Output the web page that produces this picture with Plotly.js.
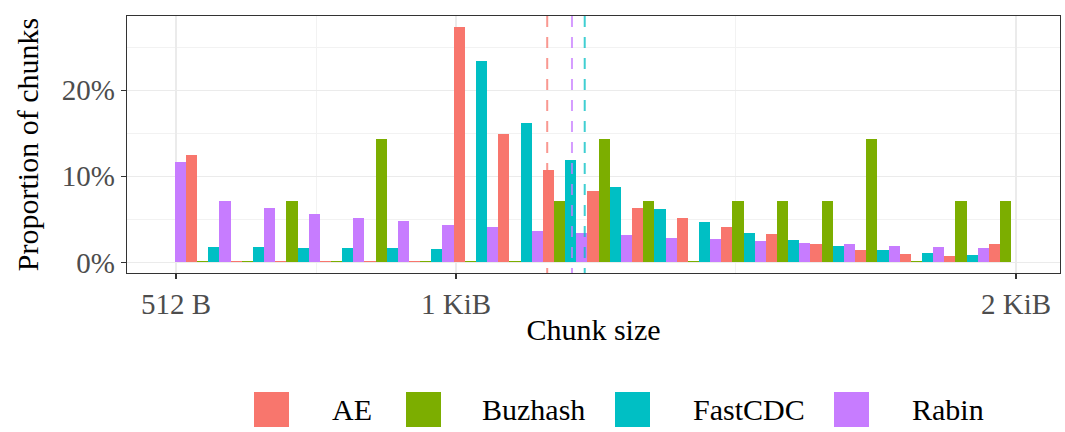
<!DOCTYPE html>
<html>
<head>
<meta charset="utf-8">
<script src="https://cdn.plot.ly/plotly-3.0.1.min.js"></script>
<style>html,body{margin:0;padding:0;background:#fff;}#chart{width:1065px;height:432px;}</style>
</head>
<body>
<div id="chart"></div>
<script>
// Bin centres (bytes)
const binCenters = [489.5, 571.1, 652.7, 734.2, 815.8, 897.4, 978.9, 1060.5, 1142.1, 1223.6,
                    1305.2, 1386.8, 1468.3, 1549.9, 1631.5, 1713.0, 1794.6, 1876.2, 1957.7, 2039.3];
// Proportion of chunks (%) per bin
const aeValues      = [null, 12.48, 0.15, 0.15, 0.15, 0.15, 0.15, 27.35, 14.91, 10.74, 8.31, 6.34, 5.18, 4.14, 3.33, 2.17, 1.47, 1.01, 0.78, 2.17];
const buzhashValues = [null, 0.15, 0.15, 7.14, 0.15, 14.29, 0.15, 0.15, 0.15, 7.14, 14.29, 7.14, 0.15, 7.14, 7.14, 7.14, 14.29, 0.15, 7.14, 7.14];
const fastcdcValues = [null, 1.82, 1.82, 1.70, 1.70, 1.70, 1.59, 23.37, 16.19, 11.90, 8.77, 6.22, 4.72, 3.44, 2.63, 1.94, 1.47, 1.12, 0.89, null];
const rabinValues   = [11.67, 7.15, 6.34, 5.64, 5.18, 4.83, 4.37, 4.14, 3.67, 3.44, 3.21, 2.86, 2.75, 2.50, 2.28, 2.17, 1.94, 1.82, 1.70, null];

const seriesNames = ["AE", "Buzhash", "FastCDC", "Rabin"];
const seriesColors = ["#F8766D", "#7CAE00", "#00BFC4", "#C77CFF"];
const seriesValues = [aeValues, buzhashValues, fastcdcValues, rabinValues];

// Mean chunk size (dashed lines), bytes
const meanNames = ["AE", "Rabin", "FastCDC"];
const meanValues = [1190.8, 1236.1, 1259.4];

const xTickVals = [512, 1024, 2048];
const xTickText = ["512 B", "1 KiB", "2 KiB"];
const yTickVals = [0, 10, 20];
const yTickText = ["0%", "10%", "20%"];

const W = 1065, H = 432;
const M = {l: 127, r: 5, t: 16, b: 159};
const PW = W - M.l - M.r, PH = H - M.t - M.b;
const px2x = px => (px - M.l) / PW;
const py2y = py => (H - M.b - py) / PH;

const FONT = "'Liberation Serif', 'DejaVu Serif', serif";

const traces = seriesNames.map((name, i) => ({
  type: "bar",
  name: name,
  x: binCenters,
  y: seriesValues[i],
  marker: {color: seriesColors[i], line: {width: 0}},
  showlegend: false,
  hoverinfo: "x+y+name"
}));

const shapes = [];
const annotations = [];

meanNames.forEach((n, i) => {
  const c = seriesColors[seriesNames.indexOf(n)];
  shapes.push({
    type: "line", xref: "x", yref: "paper",
    x0: meanValues[i], x1: meanValues[i], y0: 1, y1: 0,
    line: {color: c, width: 2, dash: "11px,10px"},
    opacity: 0.75, layer: "above"
  });
});

// custom legend
const swatchX = [254, 406, 615, 834];
const labelX = [330, 480, 691, 910];
seriesNames.forEach((n, i) => {
  shapes.push({
    type: "rect", xref: "paper", yref: "paper",
    x0: px2x(swatchX[i]), x1: px2x(swatchX[i] + 35),
    y0: py2y(427), y1: py2y(392),
    fillcolor: seriesColors[i], line: {width: 0}
  });
  annotations.push({
    xref: "paper", yref: "paper", x: px2x(labelX[i]), y: py2y(410),
    xanchor: "left", yanchor: "middle", showarrow: false,
    text: n, font: {family: FONT, size: 30, color: "#000000"}
  });
});

const layout = {
  width: W, height: H,
  margin: M,
  paper_bgcolor: "#ffffff",
  plot_bgcolor: "#ffffff",
  barmode: "group",
  bargap: 0,
  bargroupgap: 0,
  showlegend: false,
  font: {family: FONT},
  xaxis: {
    range: [422.4, 2128.5],
    tickvals: xTickVals,
    ticktext: xTickText,
    tickfont: {family: FONT, size: 29, color: "#4D4D4D"},
    ticks: "outside", ticklen: 5, tickwidth: 1.2, tickcolor: "#333333",
    showgrid: true, gridcolor: "#EBEBEB", gridwidth: 1.3,
    minor: {tickvals: [768, 1536], showgrid: true, gridcolor: "#F2F2F2", gridwidth: 1, ticks: ""},
    showline: true, mirror: true, linecolor: "#333333", linewidth: 1.3,
    zeroline: false,
    title: {text: "Chunk size", font: {family: FONT, size: 30, color: "#000000"}, standoff: 0},
    automargin: false
  },
  yaxis: {
    range: [-1.23, 28.62],
    tickvals: yTickVals,
    ticktext: yTickText,
    tickfont: {family: FONT, size: 29, color: "#4D4D4D"},
    ticks: "outside", ticklen: 5, tickwidth: 1.2, tickcolor: "#333333",
    showgrid: true, gridcolor: "#EBEBEB", gridwidth: 1.3,
    minor: {tickvals: [5, 15, 25], showgrid: true, gridcolor: "#F2F2F2", gridwidth: 1, ticks: ""},
    showline: true, mirror: true, linecolor: "#333333", linewidth: 1.3,
    zeroline: false,
    title: {text: "Proportion of chunks", font: {family: FONT, size: 30, color: "#000000"}, standoff: 14},
    automargin: false
  },
  shapes: shapes,
  annotations: annotations
};

Plotly.newPlot("chart", traces, layout, {staticPlot: true, displayModeBar: false});
</script>
</body>
</html>
